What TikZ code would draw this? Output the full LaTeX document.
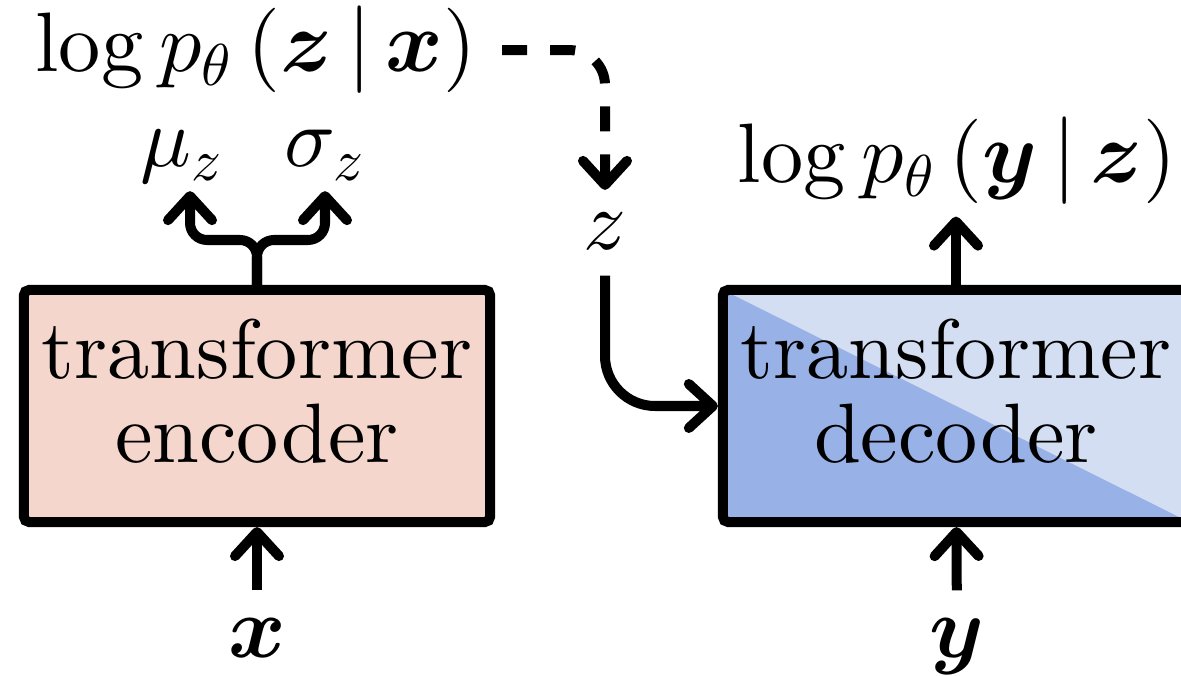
\documentclass[tikz,border=0pt]{standalone}
\usepackage{amsmath}
\usetikzlibrary{arrows.meta}

% one design size for text and operators, scaled up
\DeclareFontShape{TU}{lmr}{m}{n}{<->"[lmroman10-regular]:mapping=tex-text"}{}
\DeclareFontShape{OT1}{cmr}{m}{n}{<->cmr10}{}
\DeclareFontShape{OML}{cmm}{m}{it}{<->cmmi10}{}

\definecolor{encfill}{RGB}{244,214,204}
\definecolor{declight}{RGB}{212,222,243}
\definecolor{decdark}{RGB}{152,177,230}

\begin{document}
\begin{tikzpicture}[x=0.01cm,y=-0.01cm,
    every node/.style={font=\fontsize{24}{24}\selectfont},
    block/.style={draw,line width=1mm,rounded corners=1.5pt,minimum width=\boxwidth cm,minimum height=\boxheight cm,align=center,inner sep=0,text depth=0.3cm},
    arr/.style={line width=1mm,-{Straight Barb[length=2.4mm,width=4.4mm,round]}},
    lbl/.style={inner sep=2pt,anchor=base}]
    \pgfmathsetmacro{\boxwidth}{4.66}
    \pgfmathsetmacro{\boxheight}{2.32}
    \useasboundingbox (0,0) rectangle (1181,676);
    % boxes
    \node[block,fill=encfill] (enc) at (257,406) {transformer\\encoder};
    \node[block,fill=declight,path picture={\fill[decdark] (path picture bounding box.north west) -- (path picture bounding box.south east) -- (path picture bounding box.south west) -- cycle;}] (dec) at (956,406) {transformer\\decoder};
    % labels
    \node[lbl] (x) at (257,657) {$\boldsymbol{x}$};
    \node[lbl] (y) at (957,657) {$\boldsymbol{y}$};
    \node[lbl] (mu) at (182,167) {$\mu_{z}$};
    \node[lbl] (sigma) at (325,167) {$\sigma_{z}$};
    \node[lbl] (z) at (605,250) {$z$};
    \node[lbl] (lxz) at (256,72) {$\log p_\theta\,(\boldsymbol{z}\,|\,\boldsymbol{x})$};
    \node[lbl] (lyz) at (957,183) {$\log p_\theta\,(\boldsymbol{y}\,|\,\boldsymbol{z})$};
    \coordinate (split) at (257,240);
    % arrows
    \draw[arr,shorten <=0.2cm] (x) -- (enc);
    \draw[arr,shorten <=0.2cm] (y) -- (dec);
    \draw[arr,rounded corners=0.17cm] (enc.north) |- ([xshift=0.08cm]mu.south |- split) -- ([xshift=0.08cm]mu.south);
    \draw[arr,rounded corners=0.17cm] (enc.north) |- (sigma.south |- split) -- (sigma.south |- mu.south);
    \draw[arr,shorten >=0.04cm] (dec.north) -- (dec.north |- lyz.south);
    \draw[arr,dash pattern=on 0.25cm off 0.23cm,rounded corners=0.35cm,shorten <=0.18cm,shorten >=0.16cm] (lxz.east) -| (z.north);
    \draw[arr,rounded corners=0.5cm,shorten <=0.18cm] (z.south) |- (dec.west);
\end{tikzpicture}
\end{document}
